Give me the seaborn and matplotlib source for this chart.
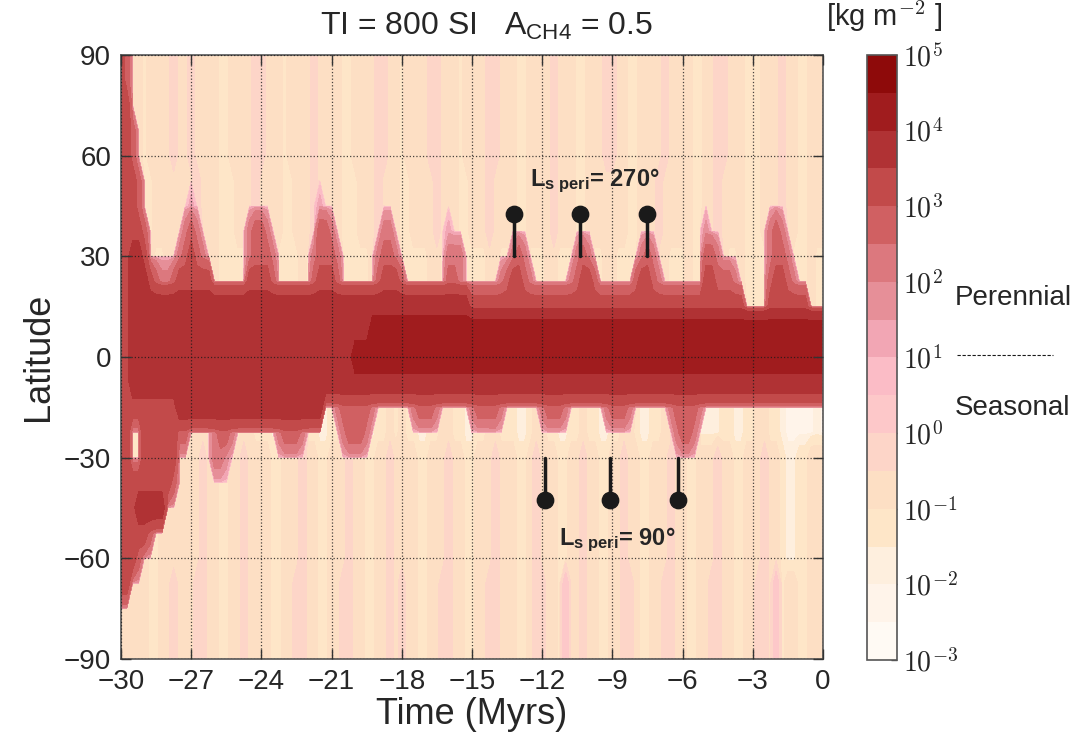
import numpy as np
import matplotlib
matplotlib.use("Agg")
import matplotlib.pyplot as plt
from matplotlib.colors import ListedColormap, BoundaryNorm
from matplotlib.lines import Line2D
import seaborn as sns

# Time axis (Myrs, 0.25 steps) and latitude rows of the ice map
times = np.arange(-30, 0.001, 0.25)
lats = np.arange(90, -90.1, -7.5)

# Ice is coded with one hex digit per time step = one colour band of the colorbar
# (0 -> 1e-3..10^-2.5 ... f -> 10^4.5..1e5); blocks of 3 Myrs.
# Background (seasonal frost) streaks
bg_north_high = "444434444544 544443344445 544434444544 443344445544 344445544434 444554443344 445444334445 544334444544 443344554443 334445443344 4"
bg_north = "444433444444 454443334445 444433444544 443334445444 334444544433 444544443344 445444334444 444334445444 443344544443 334445443344 4"
bg_north_band = "333344334443 443343333344 433333343443 343333344334 333334433343 333443343333 344333333334 433333334433 343333443343 333344333343 3"
bg_south_band = "333333333333 344332233443 332233443322 334433223343 433223344332 233443332234 433223343322 334432233443 332222233223 344332111112 1"
bg_south = "444443344444 445443344544 443344454433 444544334454 444334445443 344454443345 444334454433 445443344454 433444544334 445443223344 4"
bg_south_low = "444443344544 455443344544 443344554433 445544334454 544334455443 344554443345 544364454433 445543344554 433445544334 455463443344 4"

# Ice deposits on top of the background ('.' = background), 90N .. 90S
ice_north = [
    "cb",  # 90
    "cb",  # 82.5
    "cc",  # 75
    "ccb",  # 67.5
    "ccb",  # 60
    "cccb",  # 52.5
    "cccb........ 8........... ..........8.",  # 45
    "ccccb......a ba........ab ba........bb a........aa. ........8... ............ ............ ............ ....9....... ...aba......",  # 37.5
    "ccddc.....ab cba.......ab bba......abb ba......abba ........aaa. .......aba.. ......aba... .....aba.... ....bba..... ...abba.....",  # 30
]
ice_band = [
    "ccdddcbaabcc cccc......cc ccb......bcc cb......bccc b.......bba. .....abccba. .....abccb.. ....bccba... ....ccbbba.. ...bccba....",  # 22.5
    "ccdddddddddd dddddddddddd dddddddddddd dddddddddddd dddddddddddd cccccccccccc cccccccccccc cccccccccccc ccccccccccc. ...ccccccc.. .",  # 15
    "ccdddddddddd dddddddddddd dddddddddddd dddddddeeeee eeeeeeeeeeee eeeeeeeeeeee eeeeeeeeeeee eeeeeeeeeeee eeeeeeeeeeee eeeeeeeeeeee e",  # 7.5
    "ccdddddddddd dddddddddddd dddddddddddd ddddeeeeeeee eeeeeeeeeeee eeeeeeeeeeee eeeeeeeeeeee eeeeeeeeeeee eeeeeeeeeeee eeeeeeeeeeee e",  # 0
    "ccdddddddddd dddddddddddd dddddddddddd dddddddddddd dddddddddddd dddddddddddd dddddddddddd dddddddddddd dddddddddddd dddddddddddd d",  # -7.5
    "ccccccccccdd dddddddddddd ddddddddddd. .abbbbba.... ..abbba..... abbbba...... abbba......a bbba......ab bbba........",  # -15
]
ice_south = [
    "cc33ccccccbb ....abba.... ...abbba.... ..abbba..... ............ ............ ............ ...........a bba.........",  # -22.5
    "cc33cccccc.. ....aa9.....",  # -30
    "cccccccccb..",  # -37.5
    "cccddddd....",  # -45
    "cccccb",  # -52.5
    "cccb",  # -60
    "cc",  # -67.5
    "",  # -75
    "",  # -82.5
    "",  # -90
]
row_backgrounds = ([bg_north_high] * 5 + [bg_north] * 3 + [bg_north_band] * 3
                   + [bg_north] * 3 + [bg_south_band] * 2 + [bg_south] * 5
                   + [bg_south_low] * 4)

# Colour bands, from 1e-3 up to 1e5 (two per decade)
band_colors = ["#FFFAF4", "#FFF4EA", "#FEEFDE", "#FEE6C8", "#FDDFC4", "#FDD5C8",
               "#FDC8C9", "#FBBCC6", "#F2A6B4", "#E68F98", "#DC787E", "#D06062",
               "#C24A4A", "#B03234", "#A01C1E", "#8E0A0A"]
cbar_exponents = [-3, -2, -1, 0, 1, 2, 3, 4, 5]

# Perihelion markers
peri270_t = [-13.2, -10.4, -7.5]
peri90_t = [-11.9, -9.1, -6.2]
marker_lat = 42.5
stem_lat = 30


def decode(overlay, bg):
    ov = overlay.replace(" ", "").ljust(len(times), ".")
    bg = bg.replace(" ", "")
    return [10 ** (-2.75 + 0.5 * int(o if o != "." else b, 16)) for o, b in zip(ov, bg)]


rows = ice_north + ice_band + ice_south
ice = np.array([decode(r, b) for r, b in zip(rows, row_backgrounds)])
levels = 10.0 ** np.arange(-3, 5.01, 0.5)

sns.set_theme(style="ticks")
plt.rcParams["font.family"] = ["Liberation Sans", "DejaVu Sans"]
plt.rcParams["mathtext.fontset"] = "custom"
plt.rcParams["mathtext.rm"] = "Liberation Sans"
plt.rcParams["mathtext.it"] = "Liberation Sans:italic"
plt.rcParams["mathtext.bf"] = "Liberation Sans:bold"

cmap = ListedColormap(sns.color_palette(band_colors))
norm = BoundaryNorm(levels, cmap.N)

fig = plt.figure(figsize=(10.81, 7.40), dpi=100)
ax = fig.add_axes([0.1119, 0.1095, 0.6494, 0.8162])
cax = fig.add_axes([0.802, 0.1081, 0.028, 0.8176])

cf = ax.contourf(times, lats, ice, levels=levels, cmap=cmap, norm=norm)

# Perihelion sticks and dots
for t in peri270_t:
    ax.plot([t, t], [stem_lat, marker_lat], color="k", lw=2.5, zorder=4)
for t in peri90_t:
    ax.plot([t, t], [-stem_lat, -marker_lat], color="k", lw=2.5, zorder=4)
sns.scatterplot(x=peri270_t + peri90_t,
                y=[marker_lat] * 3 + [-marker_lat] * 3,
                color="k", s=140, edgecolor="k", ax=ax, zorder=5, legend=False)

ax.text(-9.75, 52.5, r"$\mathbf{L_{s\ peri}}$= 270°", fontsize=17,
        fontweight="bold", ha="center", va="center")
ax.text(-8.8, -54.5, r"$\mathbf{L_{s\ peri}}$= 90°", fontsize=17,
        fontweight="bold", ha="center", va="center")

ax.set_xlim(-30, 0)
ax.set_ylim(-90, 90)
ax.set_xticks(np.arange(-30, 0.1, 3))
ax.set_yticks(np.arange(-90, 91, 30))
ax.set_axisbelow(False)
ax.grid(True, color="k", ls=":", lw=0.9, alpha=0.8)
ax.tick_params(direction="in", length=7, width=1, top=True, right=True,
               labelsize=20, pad=7, color="#333333")
for sp in ax.spines.values():
    sp.set_color("#555555")
    sp.set_linewidth(1.2)
ax.set_xlabel("Time (Myrs)", fontsize=26, labelpad=2)
ax.set_ylabel("Latitude", fontsize=26, labelpad=6)
fig.text(0.4505, 0.964, r"TI = 800 SI   A$_{\mathregular{CH4}}$ = 0.5",
         fontsize=23, ha="center", va="center")

cbar = fig.colorbar(cf, cax=cax, ticks=[10.0 ** e for e in cbar_exponents])
cbar.set_ticklabels([r"$10^{%d}$" % e for e in cbar_exponents])
for lab in cax.get_yticklabels():
    lab.set_math_fontfamily("cm")
    lab.set_fontsize(20)
cax.tick_params(direction="in", length=4, width=1, color="#555555", pad=4)
cax.minorticks_off()
cbar.outline.set_edgecolor("#555555")
cbar.outline.set_linewidth(1.2)

fig.text(0.818, 0.978, r"[kg m$^{-2}$ ]", fontsize=21, ha="center", va="center",
         math_fontfamily="cm")
fig.text(0.883, 0.597, "Perennial", fontsize=20, ha="left", va="center")
fig.text(0.883, 0.449, "Seasonal", fontsize=20, ha="left", va="center")
fig.add_artist(Line2D([0.885, 0.974], [0.520, 0.520], color="k", lw=0.8,
                      ls=(0, (3, 1.5)), transform=fig.transFigure))

fig.savefig("out.png", dpi=100)
